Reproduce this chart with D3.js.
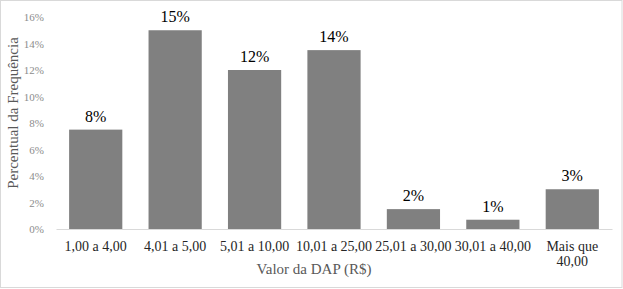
<!DOCTYPE html>
<html lang="pt">
<head>
<meta charset="UTF-8">
<title>Valor da DAP</title>
<style>
  body { margin: 0; background: #fff; }
  .chartBlock { width: 623px; height: 289px; }
  svg text { font-family: 'Liberation Serif', 'Times New Roman', Times, serif; }
  .yAxis .tick text { font-size: 11px; fill: #8c8c8c; }
  .xAxis .tick text { font-size: 14px; fill: #262626; }
  .label { font-size: 16px; fill: #000; }
  .title { font-size: 15px; fill: #595959; }
</style>
</head>
<body>
<div class="chartBlock"></div>
<script src="https://d3js.org/d3.v7.min.js"></script>
<script>
  // categorias e valores (%)
  const categories = ['1,00 a 4,00', '4,01 a 5,00', '5,01 a 10,00', '10,01 a 25,00',
                      '25,01 a 30,00', '30,01 a 40,00', 'Mais que\n40,00'];
  const values = [7.5, 15.0, 12.0, 13.5, 1.5, 0.7, 3.0];
  const yTicks = [0, 2, 4, 6, 8, 10, 12, 14, 16];

  const width = 623, height = 289;
  const plotLeft = 56, plotRight = 612, plotTop = 17, plotBottom = 229;

  const svg = d3.select('.chartBlock')
                .append('svg')
                .attr('width', width)
                .attr('height', height);

  // moldura
  svg.append('rect')
     .attr('x', 0.5).attr('y', 0.5)
     .attr('width', width - 1.5).attr('height', height - 2)
     .attr('fill', '#fff')
     .attr('stroke', '#d9d9d9');

  const xScale = d3.scaleBand()
                   .domain(categories)
                   .range([plotLeft, plotRight])
                   .paddingInner(0.33)
                   .paddingOuter(0.165);

  const yScale = d3.scaleLinear()
                   .domain([0, 16])
                   .range([plotBottom, plotTop]);

  // eixo y (só rótulos)
  const yAxis = d3.axisLeft(yScale)
                  .tickValues(yTicks)
                  .tickSize(0)
                  .tickPadding(0)
                  .tickFormat(d => d + '%');
  svg.append('g')
     .attr('class', 'yAxis')
     .attr('transform', `translate(${plotLeft - 12},0)`)
     .call(yAxis)
     .call(g => g.select('.domain').remove())
     .attr('font-family', null).attr('font-size', null);

  // barras
  svg.append('g')
     .selectAll('rect')
     .data(values)
     .join('rect')
     .attr('x', (d, i) => xScale(categories[i]))
     .attr('y', d => yScale(d))
     .attr('width', xScale.bandwidth())
     .attr('height', d => yScale(0) - yScale(d))
     .attr('fill', '#808080');

  // eixo x
  const xAxis = d3.axisBottom(xScale).tickSize(0).tickPadding(0).tickFormat('');
  const xg = svg.append('g')
     .attr('class', 'xAxis')
     .attr('transform', `translate(0,${plotBottom})`)
     .call(xAxis)
     .attr('font-family', null).attr('font-size', null);
  xg.select('.domain').attr('stroke', '#d9d9d9').attr('stroke-width', 1.2);
  xg.selectAll('.tick').each(function(d) {
    const t = d3.select(this).append('text')
                .attr('text-anchor', 'middle')
                .attr('y', 22);
    d.split('\n').forEach((line, k) => {
      t.append('tspan').attr('x', 0).attr('dy', k ? 15 : 0).text(line);
    });
  });

  // rótulos de dados
  svg.append('g')
     .selectAll('text')
     .data(values)
     .join('text')
     .attr('class', 'label')
     .attr('x', (d, i) => xScale(categories[i]) + xScale.bandwidth() / 2)
     .attr('y', d => yScale(d) - 8)
     .attr('text-anchor', 'middle')
     .text(d => Math.round(d) + '%');

  // títulos dos eixos
  svg.append('text')
     .attr('class', 'title')
     .attr('x', 314)
     .attr('y', 274)
     .attr('text-anchor', 'middle')
     .text('Valor da DAP (R$)');

  svg.append('text')
     .attr('class', 'title')
     .attr('transform', `translate(18,113) rotate(-90)`)
     .attr('text-anchor', 'middle')
     .text('Percentual da Frequência');
</script>
</body>
</html>
